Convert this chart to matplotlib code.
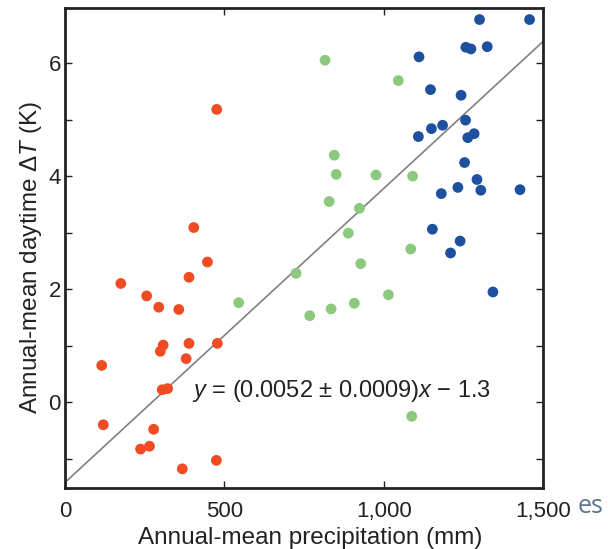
import numpy as np
import matplotlib
matplotlib.use('Agg')
import matplotlib.pyplot as plt

plt.rcParams['font.family'] = ['Liberation Sans', 'DejaVu Sans']
plt.rcParams['mathtext.fontset'] = 'custom'
plt.rcParams['mathtext.rm'] = 'Liberation Sans'
plt.rcParams['mathtext.it'] = 'Liberation Sans:italic'

# precipitation (mm) and daytime dT (K)
red_x = [476, 404, 447, 389, 175, 256, 294, 357, 308, 299, 389, 478, 380, 115,
         305, 322, 120, 278, 237, 265, 368, 475]
red_y = [5.18, 3.09, 2.48, 2.21, 2.10, 1.88, 1.68, 1.64, 1.01, 0.90, 1.04, 1.04,
         0.77, 0.65, 0.22, 0.24, -0.40, -0.48, -0.83, -0.78, -1.18, -1.03]
green_x = [816, 1046, 845, 851, 976, 1091, 829, 924, 889, 1085, 928, 725, 545,
           1015, 908, 835, 768, 1088]
green_y = [6.05, 5.69, 4.37, 4.03, 4.02, 4.00, 3.55, 3.43, 2.99, 2.71, 2.45, 2.28,
           1.76, 1.90, 1.75, 1.65, 1.53, -0.25]
blue_x = [1301, 1458, 1258, 1274, 1325, 1111, 1147, 1243, 1257, 1185, 1150, 1109,
          1264, 1284, 1254, 1293, 1233, 1305, 1181, 1428, 1153, 1240, 1210, 1343]
blue_y = [6.77, 6.77, 6.28, 6.25, 6.29, 6.11, 5.53, 5.43, 4.99, 4.90, 4.84, 4.70,
          4.68, 4.75, 4.24, 3.94, 3.80, 3.75, 3.69, 3.76, 3.06, 2.85, 2.64, 1.95]

slope = 0.0052
intercept = -1.42
fit_label = r'$y$ = (0.0052 ± 0.0009)$x$ − 1.3'

fig = plt.figure(figsize=(6.08, 5.49), dpi=100)
ax = fig.add_axes([0.107, 0.111, 0.786, 0.875])

xl = np.array([0, 1500])
ax.plot(xl, slope * xl + intercept, color='#808080', lw=1.2, zorder=1)

ax.scatter(red_x, red_y, s=60, color='#f04b23', edgecolors='none', zorder=2)
ax.scatter(green_x, green_y, s=60, color='#8cc97e', edgecolors='none', zorder=2)
ax.scatter(blue_x, blue_y, s=60, color='#1e50a0', edgecolors='none', zorder=2)

ax.text(400, 0.2, fit_label, fontsize=17, va='center', ha='left', color='#222222')

ax.set_xlim(0, 1500)
ax.set_ylim(-1.52, 6.98)
ax.set_xticks([0, 500, 1000, 1500])
ax.set_xticklabels(['0', '500', '1,000', '1,500'])
ax.set_yticks([-1, 0, 1, 2, 3, 4, 5, 6])
ax.set_yticklabels(['', '0', '', '2', '', '4', '', '6'])
ax.tick_params(direction='in', top=True, right=True, length=5, width=1,
               labelsize=16, colors='#222222')
ax.tick_params(axis='x', pad=9)
ax.tick_params(axis='y', pad=3)
for sp in ax.spines.values():
    sp.set_linewidth(2)
    sp.set_color('#222222')

ax.set_xlabel('Annual-mean precipitation (mm)', fontsize=17.5, color='#222222')
ax.xaxis.set_label_coords(0.513, -0.082)
ax.set_ylabel(r'Annual-mean daytime Δ$T$ (K)', fontsize=17.5, color='#222222')
ax.yaxis.set_label_coords(-0.045, 0.48)

fig.text(0.95, 0.077, 'es', fontsize=18, color='#5b7391', family='Open Sans',
         ha='left', va='center')

fig.savefig('out.png', dpi=100)
